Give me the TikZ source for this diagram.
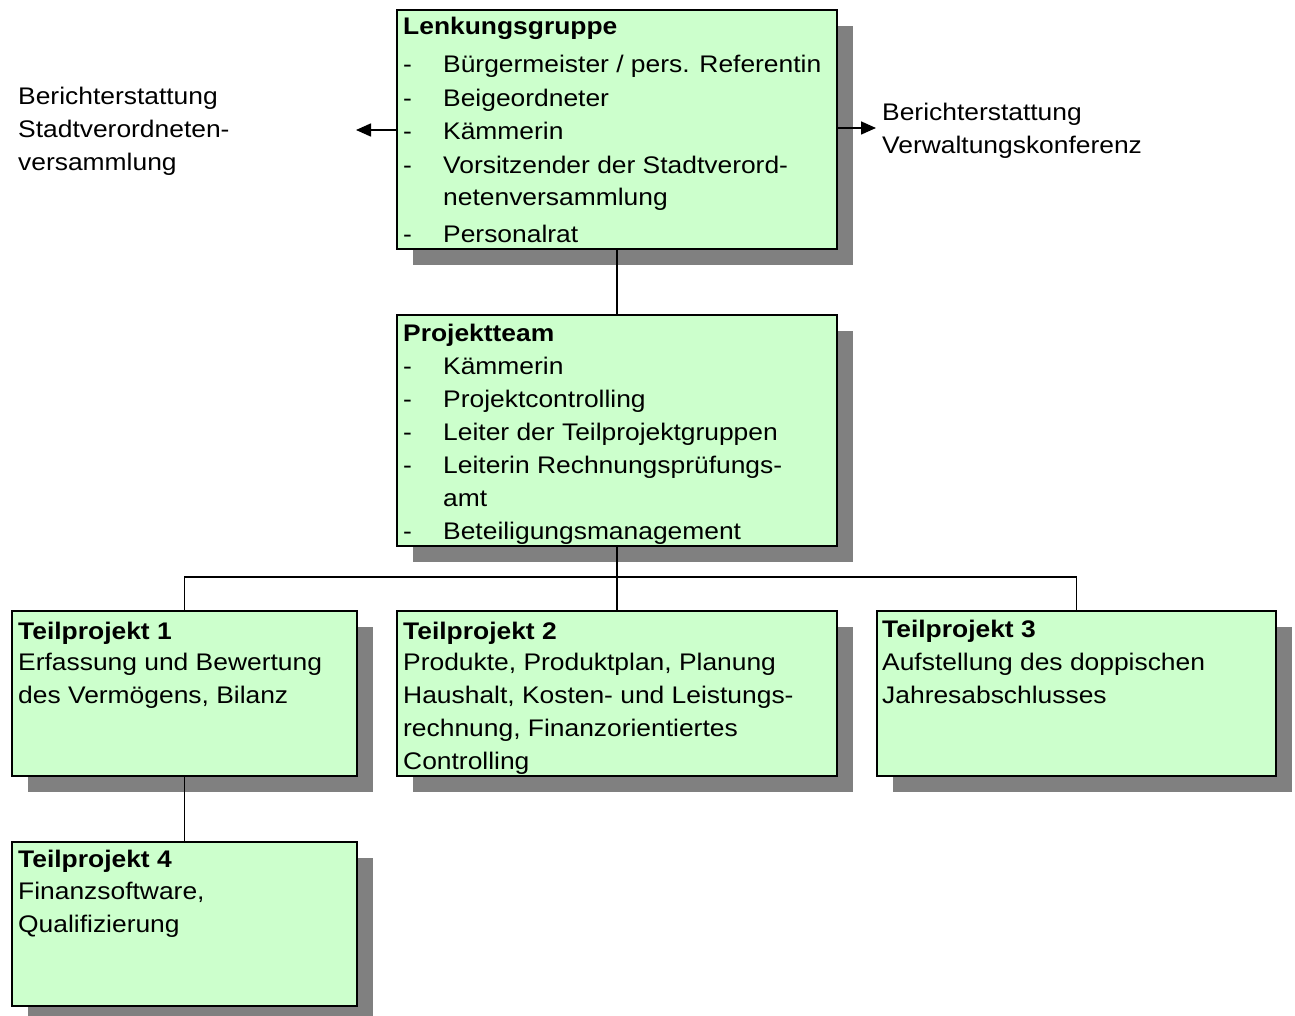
\documentclass[tikz,border=0pt]{standalone}
\usepackage{fontspec}
\setmainfont{Liberation Sans}[FakeStretch=1.1]
\usetikzlibrary{arrows.meta,shadows}
\definecolor{boxgreen}{RGB}{204,255,204}
\definecolor{shadowgray}{RGB}{128,128,128}
\begin{document}
\begin{tikzpicture}[x=1pt,y=-1pt,
  box/.style={draw=black, line width=1.6pt, fill=boxgreen, anchor=north west, inner sep=0pt,
    drop shadow={shadow xshift=16pt, shadow yshift=-16pt, fill=shadowgray, opacity=1}},
  txt/.style={anchor=base west, inner sep=0pt, font=\fontsize{24}{33}\selectfont},
  conn/.style={line width=1.6pt},
  arr/.style={line width=1.6pt, -{Triangle[length=15pt,width=13pt]}}]
\useasboundingbox (0,0) rectangle (1295,1016);
% boxes
\node[box, minimum width=440pt, minimum height=239pt] (lenk) at (396,9) {};
\node[box, minimum width=440pt, minimum height=231pt] (proj) at (396,314) {};
\node[box, minimum width=345pt, minimum height=165pt] (t1) at (11,610) {};
\node[box, minimum width=440pt, minimum height=165pt] (t2) at (396,610) {};
\node[box, minimum width=399pt, minimum height=165pt] (t3) at (876,610) {};
\node[box, minimum width=345pt, minimum height=164pt] (t4) at (11,841) {};
% connectors
\draw[conn] (lenk.south) -- (proj.north);
\draw[conn] (proj.south) -- (t2.north);
\draw[conn] (t1.north) -- ++(0,-33) -| (t3.north);
\draw[conn] (t1.south) -- (t4.north);
\coordinate (la) at (356,130);
\coordinate (ra) at (876,128);
\draw[arr] (lenk.west |- la) -- (la);
\draw[arr] (lenk.east |- ra) -- (ra);
% Lenkungsgruppe text
\node[txt] (lt) at (403,35) {\textbf{Lenkungsgruppe}};
\node[txt] (ld1) at (403,73) {-}; \node[txt] (l1) at (443,73) {Bürgermeister / pers. Referentin};
\node[txt] (ld2) at (403,107) {-}; \node[txt] (l2) at (443,107) {Beigeordneter};
\node[txt] (ld3) at (403,140) {-}; \node[txt] (l3) at (443,140) {Kämmerin};
\node[txt] (ld4) at (403,174) {-}; \node[txt] (l4) at (443,174) {Vorsitzender der Stadtverord-};
\node[txt] (l4b) at (443,206) {netenversammlung};
\node[txt] (ld5) at (403,243) {-}; \node[txt] (l5) at (443,243) {Personalrat};
% Projektteam text
\node[txt] (pt) at (403,341) {\textbf{Projektteam}};
\node[txt] (pd1) at (403,374) {-}; \node[txt] (p1) at (443,374) {Kämmerin};
\node[txt] (pd2) at (403,407) {-}; \node[txt] (p2) at (443,407) {Projektcontrolling};
\node[txt] (pd3) at (403,440) {-}; \node[txt] (p3) at (443,440) {Leiter der Teilprojektgruppen};
\node[txt] (pd4) at (403,473) {-}; \node[txt] (p4) at (443,473) {Leiterin Rechnungsprüfungs-};
\node[txt] (p4b) at (443,506) {amt};
\node[txt] (pd5) at (403,539) {-}; \node[txt] (p5) at (443,539) {Beteiligungsmanagement};
% Teilprojekt 1
\node[txt] (a0) at (18,639) {\textbf{Teilprojekt 1}};
\node[txt] (a1) at (18,670) {Erfassung und Bewertung};
\node[txt] (a2) at (18,703) {des Vermögens, Bilanz};
% Teilprojekt 2
\node[txt] (b0) at (403,639) {\textbf{Teilprojekt 2}};
\node[txt] (b1) at (403,670) {Produkte, Produktplan, Planung};
\node[txt] (b2) at (403,703) {Haushalt, Kosten- und Leistungs-};
\node[txt] (b3) at (403,736) {rechnung, Finanzorientiertes};
\node[txt] (b4) at (403,769) {Controlling};
% Teilprojekt 3
\node[txt] (c0) at (882,637) {\textbf{Teilprojekt 3}};
\node[txt] (c1) at (882,670) {Aufstellung des doppischen};
\node[txt] (c2) at (882,703) {Jahresabschlusses};
% Teilprojekt 4
\node[txt] (d0) at (18,867) {\textbf{Teilprojekt 4}};
\node[txt] (d1) at (18,899) {Finanzsoftware,};
\node[txt] (d2) at (18,932) {Qualifizierung};
% side texts
\node[txt] (s1) at (18,105) {Berichterstattung};
\node[txt] (s2) at (18,138) {Stadtverordneten-};
\node[txt] (s3) at (18,171) {versammlung};
\node[txt] (r1) at (882,121) {Berichterstattung};
\node[txt] (r2) at (882,154) {Verwaltungskonferenz};
\end{tikzpicture}
\end{document}
